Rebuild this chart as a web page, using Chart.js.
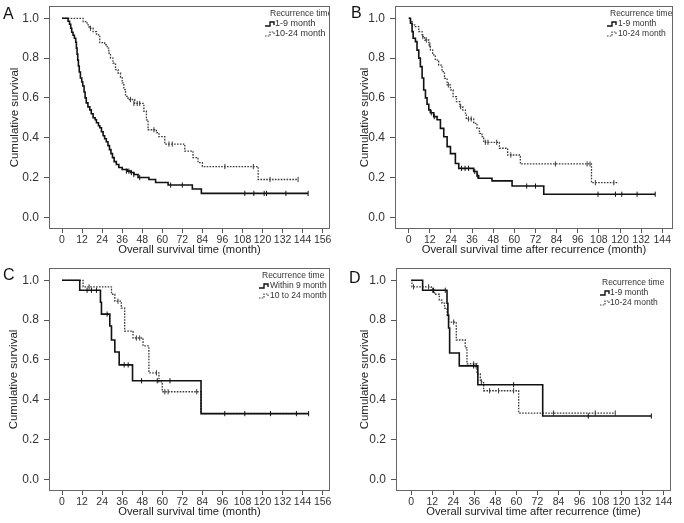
<!DOCTYPE html>
<html>
<head>
<meta charset="utf-8">
<script src="https://cdn.jsdelivr.net/npm/chart.js@4.4.1/dist/chart.umd.min.js"></script>
<style>
  html, body { margin: 0; padding: 0; background: #fff; }
  #wrap { position: relative; width: 684px; height: 523px; }
  canvas { position: absolute; }
</style>
</head>
<body>
<div id="wrap">
  <canvas id="panelA" width="342" height="261" style="left:0;top:0"></canvas>
  <canvas id="panelB" width="342" height="261" style="left:342px;top:0"></canvas>
  <canvas id="panelC" width="342" height="261" style="left:0;top:262px"></canvas>
  <canvas id="panelD" width="342" height="261" style="left:342px;top:262px"></canvas>
</div>
<script>
// Kaplan-Meier curves
// (time in months, cumulative survival), plus censor marks.

const yTicks = [0, 0.2, 0.4, 0.6, 0.8, 1.0];
const xTicks156 = [0, 12, 24, 36, 48, 60, 72, 84, 96, 108, 120, 132, 144, 156];
const xTicks144 = [0, 12, 24, 36, 48, 60, 72, 84, 96, 108, 120, 132, 144];

/* ---- A: overall survival ---- */
const aEarlyT = [0, 3.6, 4.5, 5.2, 5.8, 6.6, 7.4, 8.2, 8.6, 9.0, 9.4, 9.8, 10.3, 11.0, 11.8, 12.4, 13.2, 13.8, 14.5, 15.5, 16.6, 17.5, 18.6, 19.8, 20.6, 21.8, 22.6, 23.6, 24.6, 25.5, 26.5, 27.5, 28.4, 29.3, 30.2, 31.2, 32.5, 34, 36, 39, 41, 43, 45.5, 52, 56, 63.5, 78, 83.4, 147.3];
const aEarlyS = [1, 0.985, 0.97, 0.95, 0.93, 0.915, 0.9, 0.88, 0.85, 0.82, 0.79, 0.76, 0.73, 0.7, 0.68, 0.66, 0.63, 0.6, 0.575, 0.555, 0.54, 0.52, 0.5, 0.49, 0.475, 0.46, 0.45, 0.43, 0.41, 0.395, 0.38, 0.36, 0.34, 0.32, 0.3, 0.28, 0.265, 0.25, 0.24, 0.232, 0.225, 0.215, 0.2, 0.19, 0.175, 0.162, 0.142, 0.12, 0.12];
const aLateT = [0, 12.6, 15, 16.2, 18.6, 20.6, 22.6, 25.5, 27, 28, 29, 30.5, 32, 33.5, 35, 36, 37, 38, 39.5, 43.5, 49, 50.5, 51.5, 56.5, 58, 61.5, 73.5, 78.4, 81.4, 84, 117.4, 141.3];
const aLateS = [1, 0.983, 0.967, 0.95, 0.933, 0.917, 0.878, 0.867, 0.85, 0.825, 0.8, 0.775, 0.742, 0.725, 0.705, 0.675, 0.642, 0.608, 0.592, 0.572, 0.533, 0.49, 0.44, 0.425, 0.405, 0.368, 0.333, 0.3, 0.275, 0.255, 0.19, 0.19];
const aEarlyCensT = [38.5, 40, 41.5, 43, 46.5, 65, 72, 109.4, 114.8, 121, 122.4, 134, 147.3];
const aEarlyCensS = [0.232, 0.232, 0.225, 0.215, 0.2, 0.162, 0.162, 0.12, 0.12, 0.12, 0.12, 0.12, 0.12];
const aLateCensT = [17, 41, 43, 45, 46.5, 55, 64, 66, 97.5, 114.5, 124.5, 141.3];
const aLateCensS = [0.95, 0.592, 0.572, 0.572, 0.572, 0.44, 0.368, 0.368, 0.255, 0.255, 0.19, 0.19];

/* ---- B: survival after recurrence ---- */
const bEarlyT = [0, 1, 1.9, 2.5, 3.8, 4.7, 5.7, 6.6, 7.6, 8.5, 9.5, 10.4, 11.4, 12.3, 14.2, 16.1, 18, 19.9, 21.8, 23.7, 26.5, 28.4, 36.9, 38.8, 39.7, 47.3, 58.7, 76.7, 140];
const bEarlyS = [1, 0.975, 0.933, 0.9, 0.883, 0.84, 0.8, 0.757, 0.7, 0.64, 0.6, 0.568, 0.54, 0.525, 0.506, 0.49, 0.447, 0.405, 0.355, 0.32, 0.27, 0.246, 0.23, 0.208, 0.196, 0.183, 0.157, 0.116, 0.116];
const bLateT = [0, 0.95, 1.9, 3.8, 5.7, 7.6, 9.1, 11.4, 12.3, 13.6, 15.1, 17, 18.9, 20.3, 21.8, 23.7, 25.2, 27.1, 29, 30.7, 32.2, 32.7, 36.9, 38.8, 40.1, 41.6, 42.6, 51.5, 56.2, 63.4, 103.8, 119.2];
const bLateS = [1, 0.983, 0.967, 0.958, 0.933, 0.908, 0.891, 0.866, 0.84, 0.816, 0.79, 0.765, 0.732, 0.698, 0.665, 0.64, 0.606, 0.581, 0.556, 0.539, 0.523, 0.494, 0.472, 0.447, 0.422, 0.405, 0.377, 0.347, 0.313, 0.268, 0.174, 0.174];
const bEarlyCensT = [12.8, 14.5, 30, 32, 34, 37.5, 39.2, 67, 72, 107.5, 117.4, 121, 129.7, 140];
const bEarlyCensS = [0.525, 0.506, 0.246, 0.246, 0.246, 0.23, 0.208, 0.157, 0.157, 0.116, 0.116, 0.116, 0.116, 0.116];
const bLateCensT = [8, 10, 12, 22.5, 29.5, 34, 35.5, 43.5, 45, 50, 58, 83.3, 101.3, 103, 106, 116.5];
const bLateCensS = [0.908, 0.891, 0.866, 0.665, 0.556, 0.494, 0.494, 0.377, 0.377, 0.377, 0.313, 0.268, 0.268, 0.268, 0.174, 0.174];

/* ---- C: overall survival, subgroup ---- */
const cEarlyT = [0, 10.6, 23, 23.6, 28.6, 29.6, 31.6, 34.2, 42.2, 83.2, 147.6];
const cEarlyS = [1, 0.95, 0.89, 0.83, 0.77, 0.7, 0.64, 0.575, 0.495, 0.33, 0.33];
const cLateT = [0, 12.6, 29.6, 31.6, 35.5, 37.5, 42.5, 48.5, 52, 58, 60, 83.2, 141.3];
const cLateS = [1, 0.967, 0.93, 0.895, 0.86, 0.745, 0.71, 0.67, 0.535, 0.49, 0.44, 0.33, 0.33];
const cEarlyCensT = [15, 17.6, 20.6, 27, 37.2, 39.6, 47.6, 57, 64.6, 97.4, 109.4, 124.8, 140.3, 147.6];
const cEarlyCensS = [0.95, 0.95, 0.95, 0.83, 0.575, 0.575, 0.495, 0.495, 0.495, 0.33, 0.33, 0.33, 0.33, 0.33];
const cLateCensT = [16.2, 33.5, 44.5, 46.5, 56.5, 61.5, 63.5, 80.6];
const cLateCensS = [0.967, 0.895, 0.71, 0.71, 0.535, 0.44, 0.44, 0.44];

/* ---- D: survival after recurrence, subgroup ---- */
const dEarlyT = [0, 6.5, 20.4, 20.9, 21.3, 21.9, 27.4, 38, 75, 137];
const dEarlyS = [1, 0.95, 0.885, 0.825, 0.76, 0.635, 0.57, 0.475, 0.318, 0.318];
const dLateT = [0, 0.4, 11.4, 13.3, 16, 17.5, 19, 20.4, 21.3, 25.7, 30.8, 31.8, 37.5, 39.4, 41.3, 61.3, 116.4];
const dLateS = [1, 0.967, 0.95, 0.93, 0.9, 0.885, 0.86, 0.82, 0.79, 0.7, 0.66, 0.58, 0.53, 0.49, 0.445, 0.333, 0.333];
const dEarlyCensT = [12.7, 19.4, 35.6, 37, 58.4, 101, 137];
const dEarlyCensS = [0.95, 0.95, 0.57, 0.57, 0.475, 0.318, 0.318];
const dLateCensT = [1.3, 9.9, 12.2, 24.2, 35.6, 40, 44.7, 49.8, 58.4, 81.2, 105, 116.4];
const dLateCensS = [0.967, 0.967, 0.95, 0.79, 0.58, 0.49, 0.445, 0.445, 0.445, 0.333, 0.333, 0.333];

const legendTitle = "Recurrence time";
const labelsShort = ["1-9 month", "10-24 month"];
const labelsLong = ["Within 9 month", "10 to 24 month"];

Chart.defaults.font.family = "'Liberation Sans', Arial, sans-serif";
Chart.defaults.color = "#222";

const pts = (t, s) => t.map((v, i) => ({ x: v, y: s[i] }));

// frame + panel letter + little step legend
const decorPlugin = {
  id: "decor",
  afterDraw(chart, args, o) {
    const ctx = chart.ctx;
    const a = chart.chartArea;
    ctx.save();
    ctx.fillStyle = "#111";
    ctx.font = "16px 'Liberation Sans', Arial, sans-serif";
    ctx.textBaseline = "middle";
    ctx.fillText(o.letter, o.letterX, o.letterY);

    // legend sits inside the frame and gets cut by it, as in the original
    ctx.save();
    ctx.beginPath();
    ctx.rect(a.left, a.top, a.right - a.left - 1, a.bottom - a.top);
    ctx.clip();
    ctx.fillStyle = "#333";
    ctx.font = "8.5px 'Liberation Sans', Arial, sans-serif";
    ctx.fillText(legendTitle, o.legX, o.legY);
    ctx.font = o.entryFont + "px 'Liberation Sans', Arial, sans-serif";
    o.labels.forEach((lab, i) => {
      const y = o.legY + 10 * (i + 1);
      const x0 = o.symX;
      ctx.beginPath();
      ctx.strokeStyle = i === 0 ? "#111" : "#444";
      ctx.lineWidth = i === 0 ? 1.4 : 1.2;
      ctx.setLineDash(i === 0 ? [] : [1.5, 1.2]);
      ctx.moveTo(x0, y + 2);
      ctx.lineTo(x0 + 5, y + 2);
      ctx.lineTo(x0 + 5, y - 2);
      ctx.lineTo(x0 + 9, y - 2);
      ctx.lineTo(x0 + 9, y + 1);
      ctx.stroke();
      ctx.setLineDash([]);
      ctx.fillText(lab, o.textX, y);
    });
    ctx.restore();

    ctx.strokeStyle = "#666";
    ctx.lineWidth = 1;
    ctx.strokeRect(Math.round(a.left) + 0.5, Math.round(a.top) + 0.5,
                   Math.round(a.right - a.left) - 1, Math.round(a.bottom - a.top) - 1);
    ctx.restore();
  }
};

function drawPanel(id, curves, lay) {
  const ctx = document.getElementById(id);
  const sets = [];
  curves.forEach((c, i) => {
    sets.push({
      data: pts(c.t, c.s),
      showLine: true,
      stepped: true,
      borderColor: i === 0 ? "#111" : "#3a3a3a",
      borderWidth: i === 0 ? 1.6 : 1.3,
      borderDash: i === 0 ? [] : [1.6, 1.3],
      pointRadius: 0
    });
    sets.push({
      data: pts(c.ct, c.cs),
      showLine: false,
      pointStyle: "line",
      rotation: 90,
      pointRadius: 2.6,
      pointBorderWidth: 1,
      borderColor: i === 0 ? "#111" : "#3a3a3a"
    });
  });

  new Chart(ctx, {
    type: "scatter",
    data: { datasets: sets },
    options: {
      responsive: false,
      animation: false,
      layout: { padding: { left: 0, top: 6, right: lay.padRight, bottom: 0 } },
      plugins: {
        legend: { display: false },
        tooltip: { enabled: false },
        decor: lay.decor
      },
      scales: {
        x: {
          type: "linear",
          min: lay.xMin,
          max: lay.xMax,
          afterBuildTicks: s => { s.ticks = lay.xTicks.map(v => ({ value: v })); },
          afterFit: s => { s.height = 32; s.paddingLeft = 0; s.paddingRight = 0; },
          grid: { drawOnChartArea: false, tickLength: 4, color: "#555" },
          border: { display: false },
          ticks: { autoSkip: false, maxRotation: 0, padding: 1, font: { size: 10.5 }, color: "#333" },
          title: { display: true, text: lay.xTitle, font: { size: 11.2 }, color: "#222", padding: { top: 0, bottom: 4 } }
        },
        y: {
          type: "linear",
          min: -0.0588,
          max: 1.0618,
          afterBuildTicks: s => { s.ticks = yTicks.map(v => ({ value: v })); },
          afterFit: s => { s.width = lay.yWidth; s.paddingTop = 0; s.paddingBottom = 0; },
          grid: { drawOnChartArea: false, tickLength: 5, color: "#555" },
          border: { display: false },
          ticks: { padding: 5, font: { size: 12 }, color: "#333", callback: v => v.toFixed(1) },
          title: { display: true, text: "Cumulative survival", font: { size: 11.5 }, color: "#222", padding: { top: lay.yTitlePad, bottom: 0 } }
        }
      }
    },
    plugins: [decorPlugin]
  });
}

drawPanel("panelA", [
  { t: aEarlyT, s: aEarlyS, ct: aEarlyCensT, cs: aEarlyCensS },
  { t: aLateT, s: aLateS, ct: aLateCensT, cs: aLateCensS }
], {
  padRight: 12, yWidth: 49, xMin: -7.8, xMax: 160.4, xTicks: xTicks156, yTitlePad: 8,
  xTitle: "Overall survival time (month)",
  decor: { letter: "A", letterX: 3, letterY: 15, legX: 270, legY: 14, symX: 265, textX: 275, entryFont: 9, labels: labelsShort }
});

drawPanel("panelB", [
  { t: bEarlyT, s: bEarlyS, ct: bEarlyCensT, cs: bEarlyCensS },
  { t: bLateT, s: bLateS, ct: bLateCensT, cs: bLateCensS }
], {
  padRight: 11, yWidth: 53, xMin: -7.8, xMax: 150.1, xTicks: xTicks144, yTitlePad: 16,
  xTitle: "Overall survival time after recurrence (month)",
  decor: { letter: "B", letterX: 9, letterY: 14, legX: 268, legY: 14, symX: 265, textX: 276, entryFont: 8.5, labels: labelsShort }
});

drawPanel("panelC", [
  { t: cEarlyT, s: cEarlyS, ct: cEarlyCensT, cs: cEarlyCensS },
  { t: cLateT, s: cLateS, ct: cLateCensT, cs: cLateCensS }
], {
  padRight: 12, yWidth: 49, xMin: -7.8, xMax: 160.4, xTicks: xTicks156, yTitlePad: 7,
  xTitle: "Overall survival time (month)",
  decor: { letter: "C", letterX: 3, letterY: 14, legX: 262, legY: 14, symX: 259, textX: 270, entryFont: 8.5, labels: labelsLong }
});

drawPanel("panelD", [
  { t: dEarlyT, s: dEarlyS, ct: dEarlyCensT, cs: dEarlyCensS },
  { t: dLateT, s: dLateS, ct: dLateCensT, cs: dLateCensS }
], {
  padRight: 13, yWidth: 54, xMin: -8.7, xMax: 148.2, xTicks: xTicks144, yTitlePad: 16,
  xTitle: "Overall survival time after recurrence (time)",
  decor: { letter: "D", letterX: 7, letterY: 17, legX: 260, legY: 21, symX: 258, textX: 268, entryFont: 8.5, labels: labelsShort }
});
</script>
</body>
</html>
